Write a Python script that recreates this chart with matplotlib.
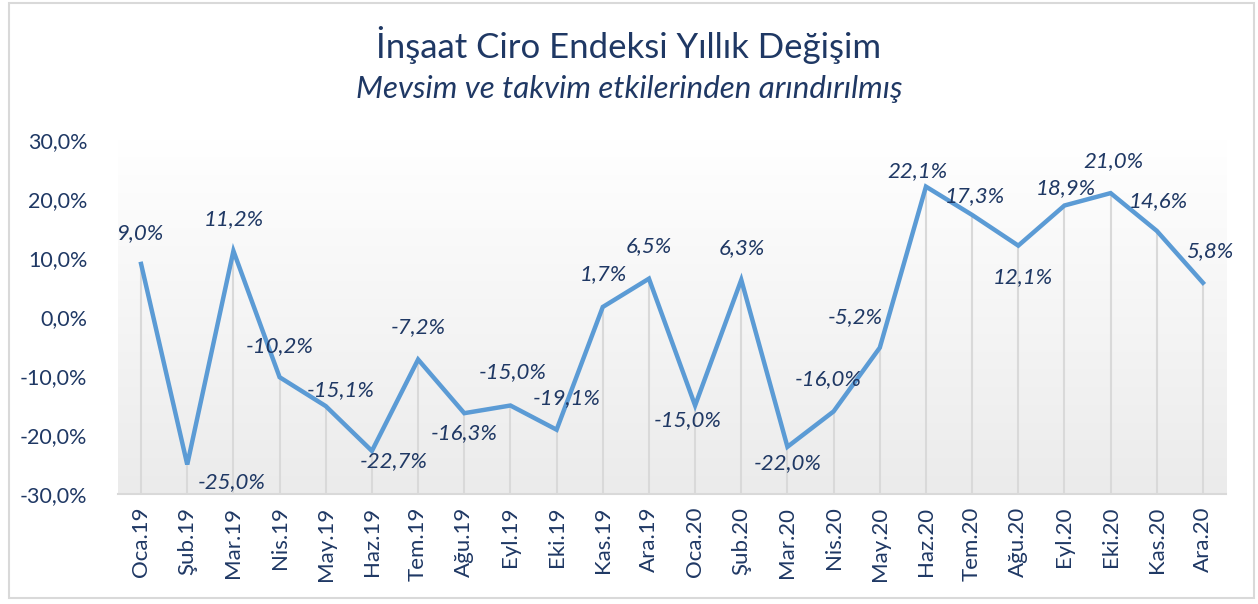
import numpy as np
import matplotlib
matplotlib.use("Agg")
import matplotlib.pyplot as plt
from matplotlib.patches import Rectangle

plt.rcParams["font.family"] = ["Lato", "DejaVu Sans"]

months = ["Oca.19", "Şub.19", "Mar.19", "Nis.19", "May.19", "Haz.19", "Tem.19", "Ağu.19",
          "Eyl.19", "Eki.19", "Kas.19", "Ara.19", "Oca.20", "Şub.20", "Mar.20", "Nis.20",
          "May.20", "Haz.20", "Tem.20", "Ağu.20", "Eyl.20", "Eki.20", "Kas.20", "Ara.20"]
values = [9.0, -25.0, 11.2, -10.2, -15.1, -22.7, -7.2, -16.3, -15.0, -19.1, 1.7, 6.5,
          -15.0, 6.3, -22.0, -16.0, -5.2, 22.1, 17.3, 12.1, 18.9, 21.0, 14.6, 5.8]
y_ticks = [-30, -20, -10, 0, 10, 20, 30]

# label offsets from the point, in pixels (dx right, dy up)
label_offsets = [(0, 31), (44, -18), (0, 32), (0, 31), (15, 16), (22, -10), (0, 32), (0, -20),
                 (2, 33), (10, 32), (1, 33), (0, 33), (-7, -15), (1, 32), (0, -16), (-5, 32),
                 (-25, 31), (-9, 16), (3, 19), (5, -31), (1, 17), (3, 32), (2, 30), (7, 32)]

NAVY = "#1f3864"
LINE = "#5b9bd5"

fig = plt.figure(figsize=(12.58, 6.04), dpi=100)
ax = fig.add_axes([0.0938, 0.1821, 0.8808, 0.5861])

x = np.arange(len(values))

# gradient background of the plot area: row 0 is the bottom (grey), last row the top (white)
grad = np.linspace(1.0, 0.0, 256).reshape(-1, 1)
ax.imshow(grad, extent=[0, 1, 0, 1], transform=ax.transAxes, aspect="auto", origin="lower",
          cmap=matplotlib.colors.LinearSegmentedColormap.from_list("g", ["#ffffff", "#ebebeb"]),
          zorder=0)

ax.vlines(x, -30, values, color="#d9d9d9", lw=1.5, zorder=1)
ax.plot(x, values, color=LINE, lw=3.2, solid_joinstyle="miter", zorder=3)

for xi, v, (dx, dy) in zip(x, values, label_offsets):
    ax.annotate(f"{v:.1f}%".replace(".", ","), (xi, v), xytext=(dx * 0.72, dy * 0.72),
                textcoords="offset points", ha="center", va="center",
                fontsize=16, style="italic", color=NAVY, zorder=4)

ax.set_xlim(-0.5, len(values) - 0.5)
ax.set_ylim(-30, 30)
ax.set_yticks(y_ticks)
ax.set_yticklabels([f"{t:.1f}%".replace(".", ",") for t in y_ticks], fontsize=15.5, color=NAVY)
ax.set_xticks(x)
ax.set_xticklabels(months, rotation=90, fontsize=16, color=NAVY)
ax.tick_params(axis="both", length=0, pad=9)
ax.tick_params(axis="y", pad=22)
for s in ["top", "right", "left"]:
    ax.spines[s].set_visible(False)
ax.spines["bottom"].set_color("#d9d9d9")
ax.spines["bottom"].set_linewidth(1.5)

fig.text(0.5, 0.925, "İnşaat Ciro Endeksi Yıllık Değişim", ha="center", va="center",
         fontsize=25, color=NAVY)
fig.text(0.5, 0.853, "Mevsim ve takvim etkilerinden arındırılmış", ha="center", va="center",
         fontsize=22.5, style="italic", color=NAVY)

fig.patches.append(Rectangle((0.007, 0.01), 0.99, 0.985, transform=fig.transFigure,
                             fill=False, edgecolor="#d9d9d9", lw=1.5))

fig.savefig("out.png", dpi=100)
